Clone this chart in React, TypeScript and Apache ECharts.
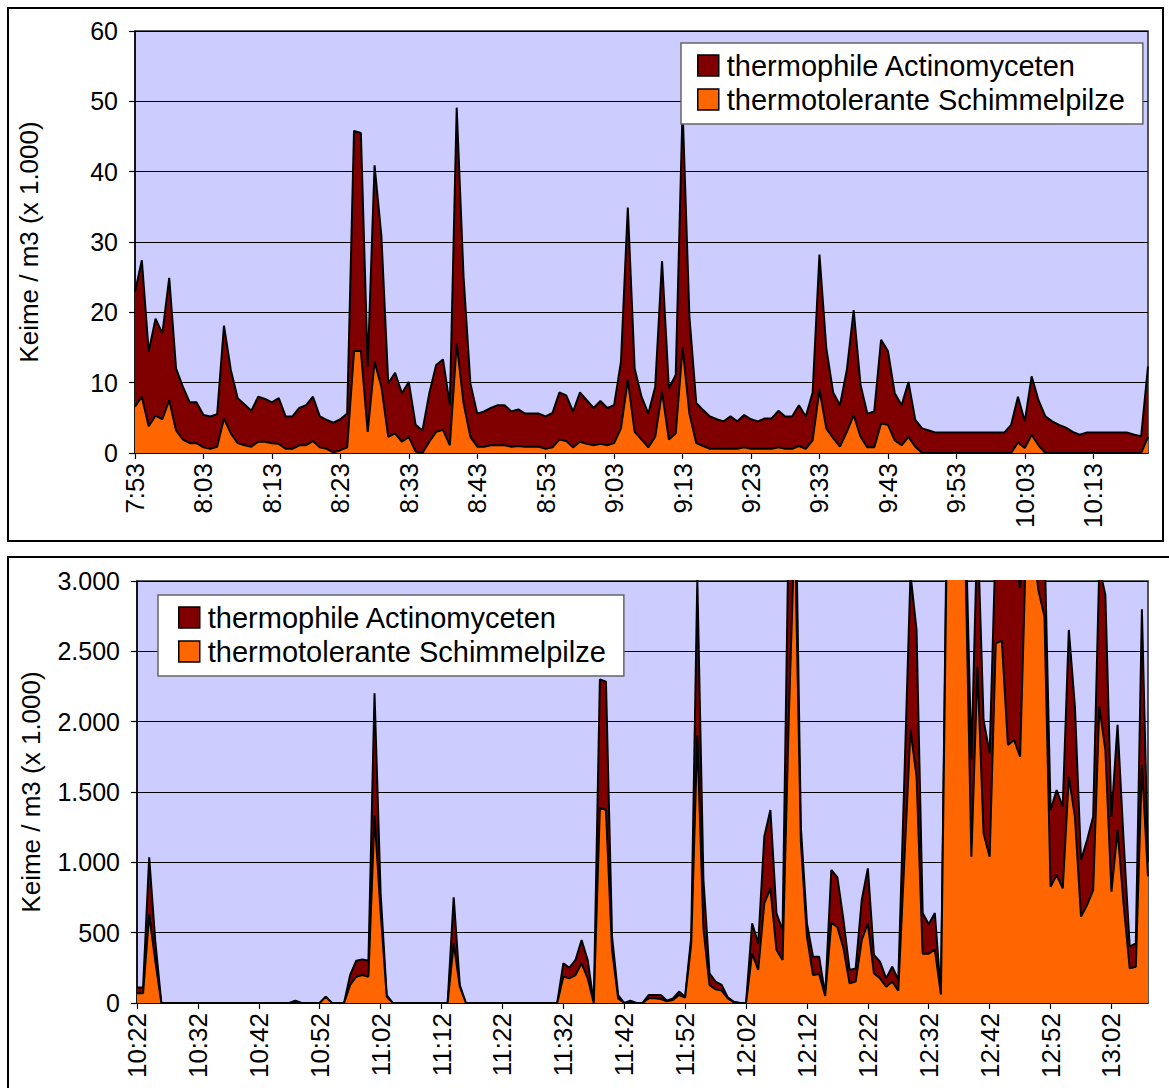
import React, { useEffect, useRef } from 'react';
import * as echarts from 'echarts';

const FONT = "'Liberation Sans', Arial, Helvetica, sans-serif";
const NAME_ACTINO = 'thermophile Actinomyceten';
const NAME_SCHIMMEL = 'thermotolerante Schimmelpilze';
const COLOR_ACTINO = '#800000';
const COLOR_SCHIMMEL = '#FF6600';
const Y_NAME = 'Keime / m3 (x 1.000)';

function minuteLabels(h: number, m: number, n: number): string[] {
  const out: string[] = [];
  let t = h * 60 + m;
  for (let i = 0; i < n; i++) {
    const hh = Math.floor(t / 60);
    const mm = t % 60;
    out.push(`${hh}:${mm < 10 ? '0' + mm : mm}`);
    t++;
  }
  return out;
}

// categories (one per minute)
const topCategories = minuteLabels(7, 53, 149);
const bottomCategories = minuteLabels(10, 22, 167);

// top chart values (x 1.000 Keime / m3)
const topActino = [
  16.3, 19.4, 10.6, 13.8, 12.2, 17.4, 8.8, 7.5, 5.8, 5.8,
  4.6, 4.6, 4.6, 13.2, 9.0, 6.4, 5.8, 5.1, 6.4, 6.1,
  5.8, 6.5, 4.6, 4.6, 5.3, 5.7, 6.3, 4.4, 4.1, 4.2,
  4.4, 4.8, 31.3, 31.0, 9.3, 27.9, 21.4, 7.6, 8.6, 6.9,
  7.8, 3.8, 3.2, 6.9, 9.5, 10.0, 5.7, 33.5, 18.0, 7.6,
  4.7, 5.0, 5.3, 5.7, 5.7, 5.0, 5.2, 4.7, 4.7, 4.7,
  4.6, 4.9, 6.7, 6.5, 5.1, 7.0, 6.2, 5.3, 6.1, 5.3,
  5.4, 9.5, 24.5, 9.0, 6.1, 4.8, 7.1, 18.6, 7.3, 8.3,
  34.0, 13.8, 5.7, 5.1, 4.6, 4.2, 3.9, 4.6, 3.9, 4.6,
  4.2, 3.9, 4.3, 4.3, 5.2, 4.6, 4.6, 5.8, 4.6, 6.8,
  19.2, 11.4, 6.5, 5.9, 8.8, 14.9, 7.4, 4.8, 5.1, 11.9,
  10.5, 6.7, 5.7, 7.8, 3.8, 3.5, 3.2, 2.9, 2.9, 2.9,
  2.9, 2.9, 2.9, 2.9, 2.9, 2.9, 2.9, 2.9, 4.0, 6.5,
  3.8, 8.3, 6.4, 5.2, 4.5, 4.0, 3.6, 3.0, 2.6, 2.9,
  2.9, 2.9, 2.9, 2.9, 2.9, 2.9, 2.6, 2.4, 10.0,
];
const topSchimmel = [
  6.6, 8.0, 3.8, 5.3, 4.8, 7.5, 3.2, 1.9, 1.4, 1.4,
  0.8, 0.6, 0.9, 4.9, 2.8, 1.4, 1.1, 0.9, 1.6, 1.6,
  1.4, 1.3, 0.6, 0.6, 1.1, 1.1, 1.7, 0.8, 0.6, 0.1,
  0.4, 0.8, 14.5, 14.5, 3.0, 13.0, 9.4, 2.3, 2.8, 1.6,
  2.3, 0.2, 0, 1.6, 3.0, 3.3, 1.1, 15.6, 7.1, 2.3,
  0.9, 0.9, 1.1, 1.1, 1.1, 0.9, 1.0, 0.9, 0.9, 0.9,
  0.6, 0.8, 1.9, 1.7, 0.8, 1.6, 1.3, 1.1, 1.3, 1.1,
  1.4, 3.5, 10.4, 3.0, 1.9, 0.8, 2.3, 8.7, 1.9, 2.8,
  15.0, 5.6, 1.4, 1.0, 0.6, 0.6, 0.6, 0.6, 0.6, 0.8,
  0.6, 0.6, 0.6, 0.6, 0.8, 0.6, 0.6, 1.0, 0.6, 1.8,
  9.0, 3.5, 2.1, 0.9, 3.0, 5.4, 2.3, 0.8, 0.8, 4.2,
  4.0, 1.8, 1.1, 2.3, 0.9, 0, 0, 0, 0, 0,
  0, 0, 0, 0, 0, 0, 0, 0, 0, 1.5,
  0.7, 2.6, 1.1, 0, 0, 0, 0, 0, 0, 0,
  0, 0, 0, 0, 0, 0, 0, 0, 2.3,
];

// bottom chart values
const bottomActino = [
  41, 41, 406, 140, 0, 0, 0, 0, 0, 0,
  0, 0, 0, 0, 0, 0, 0, 0, 0, 0,
  0, 0, 0, 0, 0, 0, 17, 0, 0, 0,
  0, 0, 0, 0, 0, 71, 114, 111, 114, 870,
  130, 12, 0, 0, 0, 0, 0, 0, 0, 0,
  0, 0, 327, 12, 0, 0, 0, 0, 0, 0,
  0, 0, 0, 0, 0, 0, 0, 0, 0, 0,
  95, 76, 107, 166, 131, 0, 912, 913, 95, 24,
  0, 17, 0, 0, 24, 24, 29, 5, 12, 24,
  7, 50, 1107, 350, 83, 55, 40, 7, 4, 0,
  0, 213, 189, 474, 557, 261, 213, 1400, 600, 100,
  94, 130, 123, 7, 375, 355, 201, 95, 94, 284,
  391, 130, 119, 59, 106, 76, 580, 1109, 1040, 290,
  210, 260, 0, 200, 300, 300, 300, 690, 1009, 806,
  735, 743, 724, 1366, 1330, 1199, 300, 300, 364, 553,
  545, 604, 581, 1043, 782, 403, 462, 522, 993, 1100,
  533, 747, 450, 154, 166, 1107, 100,
];
const bottomSchimmel = [
  70, 70, 630, 300, 0, 0, 0, 0, 0, 0,
  0, 0, 0, 0, 0, 0, 0, 0, 0, 0,
  0, 0, 0, 0, 0, 0, 0, 0, 0, 0,
  0, 45, 0, 0, 0, 128, 187, 199, 187, 1332,
  650, 45, 0, 0, 0, 0, 0, 0, 0, 0,
  0, 0, 424, 116, 0, 0, 0, 0, 0, 0,
  0, 0, 0, 0, 0, 0, 0, 0, 0, 0,
  187, 175, 199, 282, 175, 0, 1389, 1372, 377, 33,
  0, 0, 0, 0, 33, 33, 28, 12, 21, 57,
  38, 420, 1905, 530, 128, 97, 88, 33, 5, 0,
  0, 353, 235, 709, 815, 377, 306, 2000, 3400, 1150,
  472, 199, 206, 50, 571, 538, 389, 140, 152, 448,
  566, 211, 175, 116, 152, 88, 1020, 1941, 1610, 350,
  350, 380, 60, 3400, 3500, 3500, 3200, 1040, 2391, 1206,
  1040, 2557, 2576, 1834, 1870, 1751, 3300, 3300, 2936, 2747,
  827, 910, 815, 1609, 1325, 614, 697, 803, 2107, 1800,
  792, 1230, 700, 246, 258, 1692, 900,
];

const deNumber = (v: number): string =>
  v >= 1000 ? `${Math.floor(v / 1000)}.${String(v % 1000).padStart(3, '0')}` : String(v);

function xAxis(gridIndex: number, data: string[]) {
  return {
    type: 'category',
    gridIndex,
    data,
    boundaryGap: false,
    axisLine: { show: true, lineStyle: { color: '#000', width: 1.5 } },
    axisTick: { show: true, interval: 9, length: 6, inside: false, lineStyle: { color: '#000', width: 1.2 } },
    axisLabel: { interval: 9, rotate: 90, fontSize: 26, color: '#000', fontFamily: FONT, margin: 10 },
    splitLine: { show: false },
  };
}

function yAxis(gridIndex: number, max: number, interval: number, fmt?: (v: number) => string) {
  return {
    type: 'value',
    gridIndex,
    min: 0,
    max,
    interval,
    name: Y_NAME,
    nameLocation: 'middle',
    nameRotate: 90,
    nameGap: 93,
    nameTextStyle: { fontSize: 26, color: '#000', fontFamily: FONT },
    axisLine: { show: true, lineStyle: { color: '#000', width: 1.5 } },
    axisTick: { show: true, length: 6, inside: false, lineStyle: { color: '#000', width: 1.2 } },
    axisLabel: { fontSize: 25, color: '#000', fontFamily: FONT, margin: 17, formatter: fmt },
    splitLine: { show: true, lineStyle: { color: '#000', width: 1 } },
  };
}

function areaSeries(name: string, color: string, data: number[], idx: number, stack: string, z: number) {
  return {
    name,
    type: 'line',
    xAxisIndex: idx,
    yAxisIndex: idx,
    stack,
    data,
    symbol: 'none',
    showSymbol: false,
    color,
    itemStyle: { color },
    lineStyle: { color: '#000', width: 2 },
    areaStyle: { color, opacity: 1 },
    z,
    clip: true,
  };
}

function legend(left: number, top: number, padLeft: number) {
  return {
    orient: 'vertical',
    left,
    top,
    icon: 'rect',
    itemWidth: 21,
    itemHeight: 21,
    itemGap: 5,
    padding: [8, 18, 10, padLeft],
    backgroundColor: '#fff',
    borderColor: '#666',
    borderWidth: 1.5,
    selectedMode: false,
    itemStyle: { borderColor: '#000', borderWidth: 1.5 },
    textStyle: { fontSize: 29, color: '#000', fontFamily: FONT, padding: [0, 0, 0, 3] },
    data: [NAME_ACTINO, NAME_SCHIMMEL],
  };
}

export default function App() {
  const ref = useRef<HTMLDivElement>(null);
  useEffect(() => {
    if (!ref.current) return;
    const chart = echarts.init(ref.current, undefined, { renderer: 'svg' });
    chart.setOption({
      animation: false,
      backgroundColor: '#fff',
      textStyle: { fontFamily: FONT },
      graphic: [
        { type: 'rect', shape: { x: 8, y: 8, width: 1155, height: 533 }, style: { fill: 'none', stroke: '#000', lineWidth: 2 }, z: 100 },
        { type: 'rect', shape: { x: 8, y: 557, width: 1200, height: 560 }, style: { fill: 'none', stroke: '#000', lineWidth: 2 }, z: 100 },
      ],
      grid: [
        { left: 135, top: 31, width: 1013, height: 422, show: true, backgroundColor: '#CCCCFF', borderColor: '#222', borderWidth: 1.5 },
        { left: 137, top: 581, width: 1011, height: 422, show: true, backgroundColor: '#CCCCFF', borderColor: '#222', borderWidth: 1.5 },
      ],
      xAxis: [xAxis(0, topCategories), xAxis(1, bottomCategories)],
      yAxis: [yAxis(0, 60, 10), yAxis(1, 3000, 500, deNumber)],
      legend: [legend(681, 43, 16), legend(158, 595, 20)],
      series: [
        areaSeries(NAME_SCHIMMEL, COLOR_SCHIMMEL, topSchimmel, 0, 'top', 3),
        areaSeries(NAME_ACTINO, COLOR_ACTINO, topActino, 0, 'top', 2),
        areaSeries(NAME_SCHIMMEL, COLOR_SCHIMMEL, bottomSchimmel, 1, 'bottom', 3),
        areaSeries(NAME_ACTINO, COLOR_ACTINO, bottomActino, 1, 'bottom', 2),
      ],
    });
    return () => chart.dispose();
  }, []);
  return (
    <div
      ref={ref}
      style={{ position: 'absolute', left: 0, top: 0, width: 1169, height: 1088, background: '#fff' }}
    />
  );
}
